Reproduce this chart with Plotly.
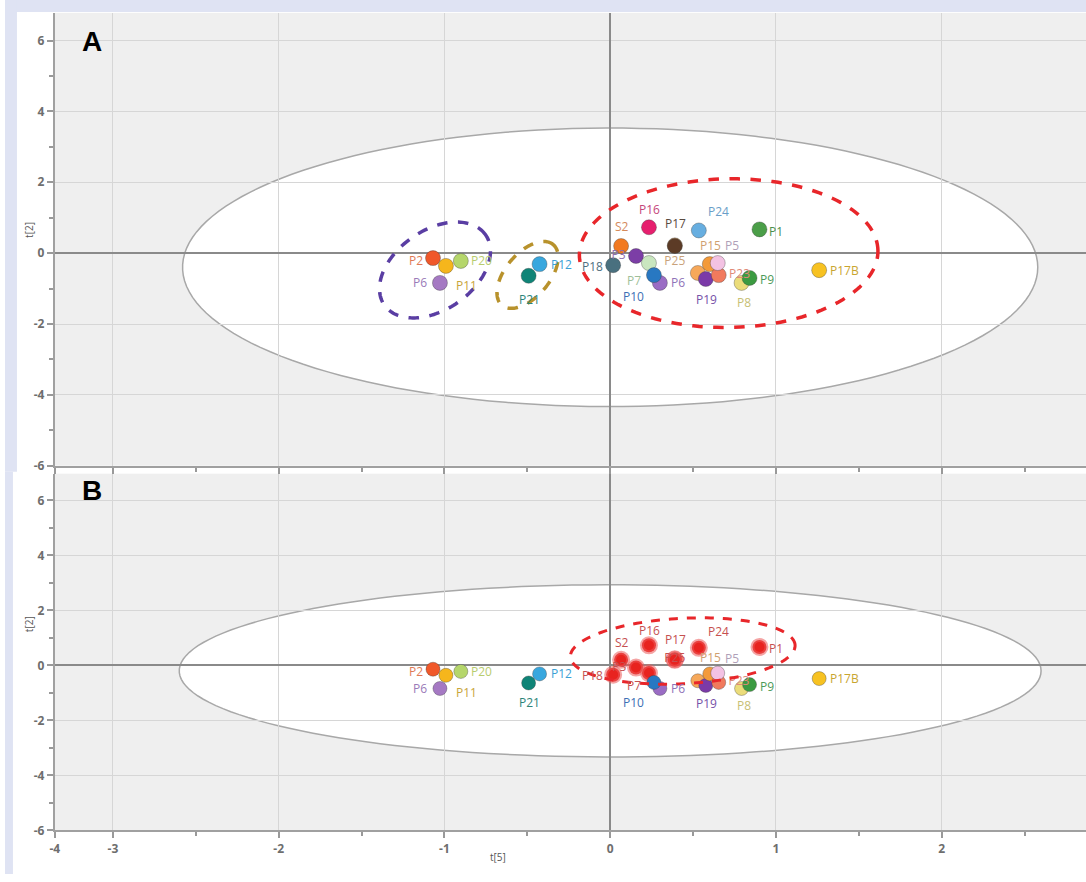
import numpy as np
import plotly.graph_objects as go

# ---------------- data ----------------
labels = ["P3", "P2", "P20", "P11", "P6", "P21", "P12", "P18", "S2", "P16", "P25", "P17",
          "P24", "P1", "P6", "P7", "P10", "P14", "P19", "P15", "P23", "P5", "P8", "P9", "P17B"]
t5 = [0.156, -1.069, -0.901, -0.991, -1.027, -0.492, -0.426, 0.018, 0.066, 0.234, 0.390, 0.390,
      0.535, 0.901, 0.300, 0.234, 0.264, 0.529, 0.577, 0.601, 0.655, 0.649, 0.793, 0.841, 1.261]
t2 = [-0.08, -0.14, -0.22, -0.36, -0.84, -0.64, -0.31, -0.34, 0.20, 0.73, 0.22, 0.20,
      0.64, 0.67, -0.84, -0.28, -0.62, -0.56, -0.73, -0.31, -0.62, -0.28, -0.84, -0.70, -0.48]
cluster_B = ["P18", "P3", "S2", "P16", "P25", "P17", "P24", "P1", "P7"]

marker_colors = ["#7c3ea6", "#f0582a", "#b5d66b", "#f6b61c", "#a579c3", "#0f8477", "#38a7de",
                 "#49707f", "#f27a21", "#e61f6e", "#c8a070", "#5c3b26", "#67aee0", "#4b9e48",
                 "#9a6cc4", "#c9e6bf", "#2878c2", "#f6a85a", "#7b3aa8", "#f39a3a", "#f17a5d",
                 "#f3c2e3", "#ebdc7a", "#3b9a41", "#f7c222"]
label_colors = ["#9070b0", "#e07a55", "#b8cc6e", "#c9a53a", "#9a7ab8", "#2d8479", "#3aa0d5",
                "#4f6f80", "#d58a5a", "#c5457a", "#c9a27a", "#5a4a40", "#6a9ec8", "#4b8f4b",
                "#8f73b8", "#9fbf9a", "#3d6fb5", "#f6a85a", "#7752a8", "#d0a070", "#e08a78",
                "#b0a0b8", "#c8c074", "#4c9a58", "#c9a530"]

# label placement: "ann" = free annotation offset (px), otherwise drawn under later markers
label_mode = ["trace", "ann", "ann", "ann", "ann", "ann", "ann", "ann", "ann", "ann", "trace", "ann",
              "ann", "ann", "ann", "ann", "ann", "none", "ann", "ann", "trace", "ann", "ann", "ann", "ann"]
trace_posA = ["middle left"] + ["middle center"] * 9 + ["bottom center"] + ["middle center"] * 9 + \
             ["middle right"] + ["middle center"] * 4
trace_posB = ["middle left"] + ["middle center"] * 19 + ["middle right"] + ["middle center"] * 4
lab_dx = [0, -17, 21, 21, -20, 1, 22, -21, 1, 1, 0, 1, 20, 17, 18, -15, -20, 0, 1, 1, 0, 14, 2, 17, 25]
lab_dyA = [0, 2, 0, 20, 0, 24, 0, 1, -20, -18, 0, -23, -19, 2, 0, 17, 21, 0, 21, -19, 0, -18, 20, 2, 0]
lab_dyB = [0, 2, 0, 17, 0, 20, 0, 1, -17, -15, 0, -20, -16, 2, 0, 12, 20, 0, 18, -16, 0, -15, 17, 2, 0]

x_ticks = [-3, -2, -1, 0, 1, 2]
y_ticks = [-6, -4, -2, 0, 2, 4, 6]

# ---------------- layout geometry ----------------
W, H = 1086, 882
x_range = [-3.351, 2.871]
yA_range = [-6.0, 6.78]
yB_range = [-6.0, 6.97]
x_dom = [50 / W, 1.0]
yA_dom = [1 - 470 / H, 1 - 13 / H]
yB_dom = [1 - 838 / H, 1 - 478 / H]

sx = (x_dom[1] - x_dom[0]) * W / (x_range[1] - x_range[0])
syA = (yA_dom[1] - yA_dom[0]) * H / (yA_range[1] - yA_range[0])
syB = (yB_dom[1] - yB_dom[0]) * H / (yB_range[1] - yB_range[0])


def ellipse_path(cx, cy, a, b, ang_deg, kx=1.0, ky=1.0, n=160):
    t = np.linspace(0, 2 * np.pi, n)
    ang = np.radians(ang_deg)
    dx = a * np.cos(t) * np.cos(ang) - b * np.sin(t) * np.sin(ang)
    dy = a * np.cos(t) * np.sin(ang) + b * np.sin(t) * np.cos(ang)
    xs = cx + dx / kx
    ys = cy + dy / ky
    return "M " + " L ".join(f"{x:.4f},{y:.4f}" for x, y in zip(xs, ys)) + " Z"


fig = go.Figure()
font_lbl = "Open Sans, DejaVu Sans, sans-serif"
LBL_SIZE = 12

trace_txt = [l if m == "trace" else "" for l, m in zip(labels, label_mode)]

# ---------------- panel A ----------------
fig.add_trace(go.Scatter(
    x=t5, y=t2, mode="markers+text", text=trace_txt, textposition=trace_posA,
    textfont=dict(color=label_colors, size=LBL_SIZE, family=font_lbl),
    marker=dict(size=15, color=marker_colors, line=dict(width=1, color="rgba(60,60,60,0.35)")),
    xaxis="x", yaxis="y", showlegend=False, hoverinfo="text", hovertext=labels))

# ---------------- panel B ----------------
colB = ["#e8231f" if l in cluster_B else c for l, c in zip(labels, marker_colors)]
lcolB = ["#c65050" if l in cluster_B else c for l, c in zip(labels, label_colors)]
lineB = ["rgba(235,90,90,0.55)" if l in cluster_B else "rgba(60,60,60,0.35)" for l in labels]
lwB = [4 if l in cluster_B else 1 for l in labels]
fig.add_trace(go.Scatter(
    x=t5, y=t2, mode="markers+text", text=trace_txt, textposition=trace_posB,
    textfont=dict(color=lcolB, size=LBL_SIZE, family=font_lbl),
    marker=dict(size=14, color=colB, line=dict(width=lwB, color=lineB)),
    xaxis="x2", yaxis="y2", showlegend=False, hoverinfo="text", hovertext=labels))

annotations = []
for i, lab in enumerate(labels):
    if label_mode[i] != "ann":
        continue
    annotations.append(dict(text=lab, x=t5[i], y=t2[i], xref="x", yref="y", showarrow=False,
                            xshift=lab_dx[i], yshift=-lab_dyA[i],
                            font=dict(size=LBL_SIZE, color=label_colors[i], family=font_lbl)))
    annotations.append(dict(text=lab, x=t5[i], y=t2[i], xref="x2", yref="y2", showarrow=False,
                            xshift=lab_dx[i], yshift=-lab_dyB[i],
                            font=dict(size=LBL_SIZE, color=lcolB[i], family=font_lbl)))

shapes = []
# background frame (lavender border)
lav = "#dfe3f3"
for (x0, y0, x1, y1) in [(0, 0, W, 12), (0, 0, 12, 476), (0, 476, 8, H)]:
    shapes.append(dict(type="rect", xref="paper", yref="paper", x0=x0 / W, x1=x1 / W,
                       y0=1 - y1 / H, y1=1 - y0 / H, fillcolor=lav, line=dict(width=0),
                       layer="below"))

# Hotelling ellipses
shapes.append(dict(type="path", xref="x", yref="y", path=ellipse_path(0, -0.4, 2.58, 3.93, 0),
                   fillcolor="white", line=dict(color="#a8a8a8", width=1.5), layer="below"))
shapes.append(dict(type="path", xref="x2", yref="y2", path=ellipse_path(0, -0.2, 2.6, 3.13, 0),
                   fillcolor="white", line=dict(color="#a8a8a8", width=1.5), layer="below"))

# dashed group ellipses (panel A)
shapes.append(dict(type="path", xref="x", yref="y",
                   path=ellipse_path(-1.057, -0.476, 62, 40, 35, sx, syA),
                   line=dict(color="#5a3ea3", width=3.5, dash="dash"), layer="above"))
shapes.append(dict(type="path", xref="x", yref="y",
                   path=ellipse_path(-0.4985, -0.615, 40, 22, 50, sx, syA),
                   line=dict(color="#b8922c", width=3.5, dash="dash"), layer="above"))
shapes.append(dict(type="path", xref="x", yref="y",
                   path=ellipse_path(0.715, 0.0, 150, 75, 1, sx, syA),
                   line=dict(color="#e8262a", width=3.5, dash="dash"), layer="above"))
# panel B cluster ellipse
shapes.append(dict(type="path", xref="x2", yref="y2",
                   path=ellipse_path(0.438, 0.522, 113, 33, 3, sx, syB),
                   line=dict(color="#e8262a", width=3, dash="dash"), layer="above"))

annotations += [
    dict(text="<b>A</b>", x=87 / W, y=1 - 42 / H, xref="paper", yref="paper", showarrow=False,
         font=dict(size=28, color="black", family="Liberation Sans, Arial"), xanchor="center",
         yanchor="middle"),
    dict(text="<b>B</b>", x=87 / W, y=1 - 495 / H, xref="paper", yref="paper", showarrow=False,
         font=dict(size=28, color="black", family="Liberation Sans, Arial"), xanchor="center",
         yanchor="middle"),
    dict(text="t[2]", x=15 / W, y=1 - 222 / H, xref="paper", yref="paper", showarrow=False,
         textangle=-90, font=dict(size=10, color="#555", family=font_lbl)),
    dict(text="t[2]", x=15 / W, y=1 - 640 / H, xref="paper", yref="paper", showarrow=False,
         textangle=-90, font=dict(size=10, color="#555", family=font_lbl)),
    dict(text="t[5]", x=495 / W, y=1 - 874 / H, xref="paper", yref="paper", showarrow=False,
         font=dict(size=10, color="#555", family=font_lbl)),
]

tickfont = dict(size=12, color="#6e6e6e", family=font_lbl, weight="bold")
x_tickvals = [x_range[0]] + x_ticks
x_ticktext = ["-4"] + [str(v) for v in x_ticks]

common_x = dict(range=x_range, showgrid=True, gridcolor="#d6d6d6", gridwidth=1,
                zeroline=True, zerolinecolor="#8a8a8a", zerolinewidth=2,
                showline=True, linecolor="#a0a0a0", linewidth=2,
                ticks="outside", ticklen=6, tickcolor="#999", tickwidth=1.5,
                tickvals=x_tickvals, ticktext=x_ticktext, tickfont=tickfont,
                minor=dict(dtick=0.5, tick0=0, ticks="outside", ticklen=4, tickcolor="#999",
                           showgrid=False),
                domain=x_dom, fixedrange=True)
common_y = dict(showgrid=True, gridcolor="#d6d6d6", gridwidth=1,
                zeroline=True, zerolinecolor="#8a8a8a", zerolinewidth=2,
                showline=True, linecolor="#a0a0a0", linewidth=2,
                ticks="outside", ticklen=6, tickcolor="#999", tickwidth=1.5,
                tickvals=y_ticks, ticktext=[str(v) for v in y_ticks], tickfont=tickfont,
                minor=dict(dtick=1, tick0=0, ticks="outside", ticklen=4, tickcolor="#999",
                           showgrid=False),
                fixedrange=True)

fig.update_layout(
    width=W, height=H, margin=dict(l=0, r=0, t=0, b=0),
    paper_bgcolor="white", plot_bgcolor="#efefef",
    xaxis=dict(common_x, anchor="y", showticklabels=False),
    yaxis=dict(common_y, range=yA_range, domain=yA_dom, anchor="x"),
    xaxis2=dict(common_x, anchor="y2"),
    yaxis2=dict(common_y, range=yB_range, domain=yB_dom, anchor="x2"),
    shapes=shapes, annotations=annotations, showlegend=False,
)

fig.write_html("out.html", config={"displayModeBar": False},
               post_script="document.body.style.margin='0';document.body.style.background='#dfe3f3';")
